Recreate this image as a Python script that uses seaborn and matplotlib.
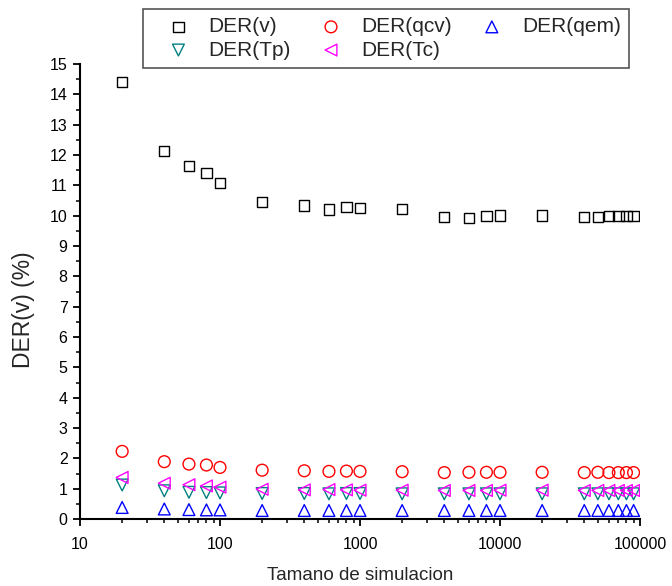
import matplotlib
matplotlib.use("Agg")
import matplotlib.pyplot as plt
import seaborn as sns
import numpy as np
import pandas as pd
from matplotlib.ticker import LogLocator, MultipleLocator, NullFormatter, FixedLocator, FixedFormatter

sizes = [20, 40, 60, 80, 100, 200, 400, 600, 800, 1000, 2000, 4000, 6000, 8000,
         10000, 20000, 40000, 50000, 60000, 70000, 80000, 90000]
der_v = [14.41, 12.13, 11.64, 11.41, 11.07, 10.46, 10.33, 10.20, 10.29, 10.25, 10.21,
         9.95, 9.92, 9.98, 10.01, 10.00, 9.95, 9.96, 9.99, 9.98, 9.98, 9.98]
der_qcv = [2.23, 1.89, 1.81, 1.78, 1.70, 1.61, 1.59, 1.57, 1.58, 1.57, 1.56,
           1.53, 1.54, 1.54, 1.54, 1.54, 1.53, 1.54, 1.53, 1.53, 1.53, 1.53]
der_qem = [0.38, 0.33, 0.31, 0.30, 0.30, 0.28, 0.28, 0.28, 0.28, 0.28, 0.28,
           0.28, 0.28, 0.28, 0.28, 0.28, 0.28, 0.28, 0.28, 0.28, 0.28, 0.28]
der_tp = [1.12, 0.93, 0.88, 0.87, 0.86, 0.84, 0.84, 0.83, 0.84, 0.84, 0.83,
          0.83, 0.83, 0.83, 0.83, 0.83, 0.83, 0.83, 0.83, 0.83, 0.83, 0.83]
der_tc = [1.37, 1.18, 1.13, 1.09, 1.05, 0.98, 0.96, 0.97, 0.96, 0.95, 0.95,
          0.94, 0.94, 0.94, 0.95, 0.95, 0.94, 0.94, 0.94, 0.94, 0.94, 0.94]

series_names = ["DER(v)", "DER(qcv)", "DER(qem)", "DER(Tp)", "DER(Tc)"]
series_values = [der_v, der_qcv, der_qem, der_tp, der_tc]
markers = ["s", "o", "^", "v", "<"]
marker_sizes = [56, 72, 72, 72, 72]
colors = ["#000000", "#FF0000", "#0000FF", "#008080", "#FF00FF"]

x_ticks = [10, 100, 1000, 10000, 100000]
x_ticklabels = ["10", "100", "1000", "10000", "100000"]

sns.set_theme(style="ticks")
plt.rcParams['font.family'] = ['Liberation Sans', 'DejaVu Sans']

fig = plt.figure(figsize=(6.72, 5.86), dpi=100)
ax = fig.add_axes([80/672, 1 - 519/586, (640 - 80)/672, (519 - 64)/586])

for name, vals, m, ms, c in zip(series_names, series_values, markers, marker_sizes, colors):
    df = pd.DataFrame({"size": sizes, "val": vals})
    sns.scatterplot(data=df, x="size", y="val", marker=m, s=ms, facecolor="none",
                    edgecolor=c, linewidth=1.0, ax=ax, label=name, zorder=3)

ax.set_xscale("log")
ax.set_xlim(10, 100000)
ax.set_ylim(0, 15)
ax.xaxis.set_major_locator(FixedLocator(x_ticks))
ax.xaxis.set_major_formatter(FixedFormatter(x_ticklabels))
ax.xaxis.set_minor_locator(LogLocator(base=10, subs=np.arange(2, 10) * 1.0, numticks=20))
ax.xaxis.set_minor_formatter(NullFormatter())
ax.yaxis.set_major_locator(MultipleLocator(1))
ax.yaxis.set_minor_locator(MultipleLocator(0.5))

for side in ["top", "right"]:
    ax.spines[side].set_visible(False)
for side in ["left", "bottom"]:
    ax.spines[side].set_linewidth(1.5)
    ax.spines[side].set_color("black")

ax.tick_params(axis="both", which="major", direction="out", length=5, width=1.3,
               labelsize=11.5, colors="black")
ax.tick_params(axis="x", which="major", pad=8)
ax.tick_params(axis="y", which="major", pad=4)
ax.tick_params(axis="both", which="minor", direction="out", length=3, width=1.1, colors="black")

ax.set_xlabel("Tamano de simulacion", fontsize=13.5, labelpad=11)
ax.set_ylabel("DER(v) (%)", fontsize=16.5)
ax.yaxis.set_label_coords(-0.08, 0.46)

h, l = ax.get_legend_handles_labels()
hd = dict(zip(l, h))
order = ["DER(v)", "DER(Tp)", "DER(qcv)", "DER(Tc)", "DER(qem)"]
leg = ax.legend([hd[k] for k in order], order, ncol=3, loc="upper left",
                bbox_to_anchor=(143/672, 1 - 9/586), bbox_transform=fig.transFigure,
                borderaxespad=0, fontsize=15, frameon=True, fancybox=False,
                framealpha=1, edgecolor="#555555", handletextpad=0.15,
                columnspacing=0.62, borderpad=0.4, labelspacing=0.2, handlelength=2.6)
leg.get_frame().set_linewidth(1.2)

fig.savefig("out.png", dpi=100)
